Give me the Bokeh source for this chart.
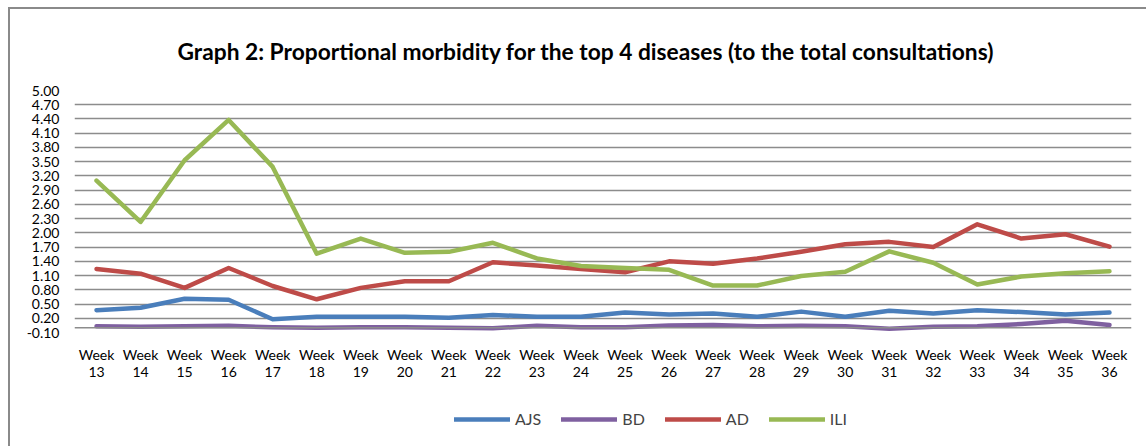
from bokeh.plotting import figure
from bokeh.layouts import column
from bokeh.models import (Range1d, FixedTicker, PrintfTickFormatter, Legend, LegendItem,
                          Span, Title, LinearAxis)
from bokeh.embed import file_html
from bokeh.resources import INLINE

week_word = "Week"
week_nums = [str(w) for w in range(13, 37)]
AJS = [0.37, 0.42, 0.61, 0.59, 0.18, 0.23, 0.23, 0.23, 0.21, 0.27, 0.23, 0.23,
       0.32, 0.28, 0.30, 0.23, 0.34, 0.23, 0.36, 0.30, 0.37, 0.33, 0.28, 0.32]
BD = [0.03, 0.02, 0.03, 0.04, 0.01, 0.00, 0.01, 0.01, 0.00, -0.01, 0.04, 0.01,
      0.01, 0.05, 0.06, 0.03, 0.04, 0.03, -0.02, 0.02, 0.03, 0.08, 0.15, 0.06]
AD = [1.24, 1.14, 0.84, 1.26, 0.88, 0.60, 0.84, 0.98, 0.98, 1.38, 1.31, 1.24,
      1.17, 1.40, 1.35, 1.46, 1.60, 1.76, 1.81, 1.70, 2.18, 1.88, 1.97, 1.71]
ILI = [3.10, 2.23, 3.53, 4.38, 3.39, 1.56, 1.88, 1.58, 1.60, 1.79, 1.46, 1.30,
       1.26, 1.22, 0.89, 0.89, 1.09, 1.18, 1.61, 1.37, 0.91, 1.08, 1.15, 1.19]
y_ticks = [round(-0.10 + 0.30 * k, 2) for k in range(18)]

series = [("AJS", AJS, "#4A7EBB"), ("BD", BD, "#7F60A0"),
          ("AD", AD, "#BE4B48"), ("ILI", ILI, "#98B954")]

FONT = "Lato"
GRID = "#8C8C8C"
BORDER = "2px solid #8A8A8A"

p = figure(frame_width=1055, frame_height=240, output_backend="svg", toolbar_location=None,
           x_range=Range1d(-0.5, len(week_nums) - 0.5), y_range=Range1d(-0.10, 5.00),
           min_border_left=64, min_border_right=17, min_border_top=80,
           min_border_bottom=56)
p.styles = {"margin-left": "8px", "margin-top": "7px",
            "border-left": BORDER, "border-top": BORDER}
p.outline_line_color = None
p.background_fill_color = "white"

p.title = Title(text="Graph 2: Proportional morbidity for the top 4 diseases (to the total consultations)",
                align="left", offset=103, standoff=52, text_font=FONT,
                text_font_size="22.75px", text_font_style="bold", text_color="black")

xs = list(range(len(week_nums)))
for name, vals, col in series:
    p.line(xs, vals, line_color=col, line_width=4.5, line_cap="round",
           line_join="round")

p.add_layout(Span(location=0, dimension="width", line_color=GRID, line_width=1.5))

p.xgrid.grid_line_color = None
p.ygrid.grid_line_color = GRID
p.ygrid.grid_line_width = 1.5

p.yaxis.ticker = FixedTicker(ticks=y_ticks)
p.yaxis.formatter = PrintfTickFormatter(format="%.2f")
p.xaxis.ticker = FixedTicker(ticks=xs)
p.xaxis.major_label_overrides = {i: week_word for i in xs}

num_axis = LinearAxis(ticker=FixedTicker(ticks=xs),
                      major_label_overrides={i: n for i, n in enumerate(week_nums)})
p.add_layout(num_axis, "below")

for ax in (p.xaxis[0], num_axis, p.yaxis[0]):
    ax.axis_line_color = None
    ax.major_tick_line_color = None
    ax.minor_tick_line_color = None
    ax.major_tick_out = 0
    ax.major_tick_in = 0
    ax.major_label_text_font = FONT
    ax.major_label_text_color = "black"
    ax.major_label_text_font_size = "14px"
p.yaxis.major_label_standoff = 15
p.xaxis[0].major_label_standoff = 13
num_axis.major_label_standoff = 1

# legend strip below the chart (same series, colours and names)
lp = figure(width=1136, height=60, output_backend="svg", toolbar_location=None,
            x_axis_type=None, y_axis_type=None, x_range=Range1d(100, 101),
            y_range=Range1d(100, 101), min_border=0, min_border_left=0,
            min_border_right=0, min_border_top=0, min_border_bottom=0)
lp.styles = {"margin-left": "8px", "border-left": BORDER}
lp.outline_line_color = None
items = []
for name, vals, col in series:
    r = lp.line(xs, vals, line_color=col, line_width=4.5, line_cap="round")
    r.visible = False
    items.append(LegendItem(label=name, renderers=[r]))
legend = Legend(items=items, orientation="horizontal", location=(380, 18),
                glyph_width=56, glyph_height=16, label_standoff=5, spacing=20,
                padding=0, margin=0, label_text_font=FONT, label_text_font_size="16px",
                border_line_color=None, background_fill_alpha=0)
lp.add_layout(legend)

layout = column(p, lp, spacing=0)
open("out.html", "w").write(file_html(layout, INLINE))
